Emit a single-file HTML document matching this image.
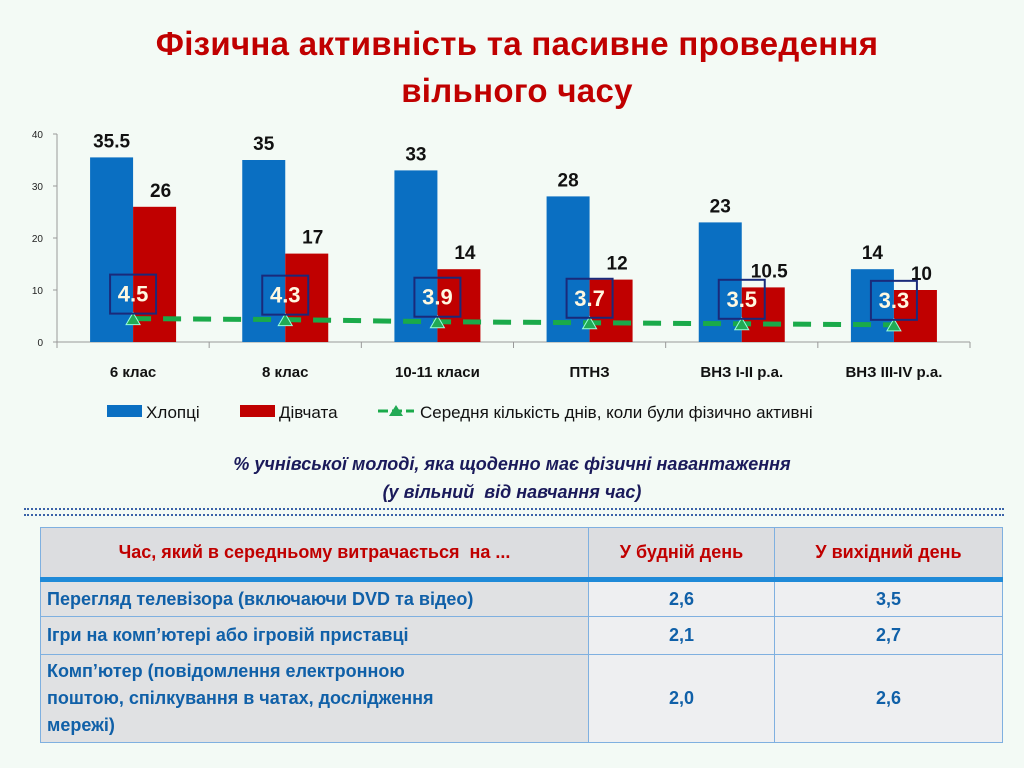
<!DOCTYPE html>
<html><head><meta charset="utf-8"><style>
body{margin:0;width:1024px;height:768px;background:#f3faf5;font-family:"Liberation Sans","DejaVu Sans",sans-serif;overflow:hidden;position:relative}
.title{position:absolute;left:0;width:1034px;top:20px;text-align:center;color:#c00000;font-weight:bold;font-size:33px;line-height:47px;letter-spacing:0.3px}
.sub{position:absolute;left:0;width:1024px;top:450px;text-align:center;color:#1a1a5a;font-style:italic;font-weight:bold;font-size:18px;line-height:28px}
.dots{position:absolute;left:24px;width:980px;height:4px;border-top:2px dotted #3a62a8;border-bottom:2px dotted #3a62a8;top:508px}
table{position:absolute;left:40px;top:527px;width:963px;border-collapse:collapse;font-size:18px;font-weight:bold;table-layout:fixed}
td{border:1.5px solid #7fb0e0;padding:0 6px;color:#1060a8}
th{border:1.5px solid #7fb0e0;color:#c00000;background:#dcdde0;height:47px;font-size:18px}
tr.h{border-bottom:5px solid #1f8ad8}
td.n{text-align:center}
.g{background:#e0e1e3}.w{background:#eeeff1}
</style></head><body>
<div class="title">Фізична активність та пасивне проведення<br>вільного часу</div>
<svg id="chart" width="1024" height="440" style="position:absolute;left:0;top:0"></svg>
<div class="sub">% учнівської молоді, яка щоденно має фізичні навантаження<br>(у вільний&nbsp; від навчання час)</div>
<div class="dots"></div>
<table>
<tr class="h"><th style="width:545px">Час, який в середньому витрачається&nbsp; на ...</th><th style="width:183px">У будній день</th><th>У вихідний день</th></tr>
<tr style="height:37px"><td class="g">Перегляд телевізора (включаючи DVD та відео)</td><td class="n w">2,6</td><td class="n w">3,5</td></tr>
<tr style="height:38px"><td class="g">Ігри на комп’ютері або ігровій приставці</td><td class="n w">2,1</td><td class="n w">2,7</td></tr>
<tr style="height:88px"><td class="g" style="line-height:27px">Комп’ютер (повідомлення електронною<br>поштою, спілкування в чатах, дослідження<br>мережі)</td><td class="n w">2,0</td><td class="n w">2,6</td></tr>
</table>
<script>
const categories=["6 клас","8 клас","10-11 класи","ПТНЗ","ВНЗ I-II р.а.","ВНЗ III-IV р.а."];
const boys=[35.5,35,33,28,23,14];
const girls=[26,17,14,12,10.5,10];
const avgDays=[4.5,4.3,3.9,3.7,3.5,3.3];
const yTicks=[0,10,20,30,40];
const NS="http://www.w3.org/2000/svg";
const svg=document.getElementById('chart');
const x0=57,x1=970,y0=342,yTop=134;
const bw=(x1-x0)/categories.length;
const y=v=>y0-(v/40)*(y0-yTop);
const cx=i=>x0+bw*(i+0.5);
function mk(t,a,txt){const e=document.createElementNS(NS,t);for(const k in a)e.setAttribute(k,a[k]);if(txt!==undefined)e.textContent=txt;svg.appendChild(e);return e;}
mk('line',{x1:x0,y1:yTop,x2:x0,y2:y0,stroke:'#999'});
mk('line',{x1:x0,y1:y0,x2:x1,y2:y0,stroke:'#999'});
yTicks.forEach(v=>{mk('line',{x1:x0-4,y1:y(v),x2:x0,y2:y(v),stroke:'#999'});
const t=mk('text',{x:x0-14,y:y(v)+4,'text-anchor':'end','font-size':10,fill:'#222'},v);

});
for(let i=0;i<=categories.length;i++)mk('line',{x1:x0+bw*i,y1:y0,x2:x0+bw*i,y2:y0+6,stroke:'#999'});
const bwid=43;
categories.forEach((c,i)=>{
 const b=mk('rect',{x:cx(i)-bwid,y:y(boys[i]),width:bwid,height:y0-y(boys[i]),fill:'#0a6fc2'});
 
 
 const g=mk('rect',{x:cx(i),y:y(girls[i]),width:bwid,height:y0-y(girls[i]),fill:'#c00000'});
 
 
 mk('text',{x:cx(i)-bwid/2,y:y(boys[i])-10,'text-anchor':'middle','font-size':19,'font-weight':'bold',fill:'#111'},boys[i]);
 mk('text',{x:cx(i)+bwid/2+6,y:y(girls[i])-10,'text-anchor':'middle','font-size':19,'font-weight':'bold',fill:'#111'},girls[i]);
 const l=mk('text',{x:cx(i),y:y0+35,'text-anchor':'middle','font-size':15,'font-weight':'bold',fill:'#111'},c);
 
 
});
let pts=avgDays.map((v,i)=>`${cx(i)},${y(v)}`).join(' ');
const ln=mk('polyline',{points:pts,fill:'none',stroke:'#1aaa4a','stroke-width':5,'stroke-dasharray':'18 12'});


avgDays.forEach((v,i)=>{
 const X=cx(i),Y=y(v);
 const m=mk('polygon',{points:`${X-7},${Y+6} ${X+7},${Y+6} ${X},${Y-6}`,fill:'#22aa55',stroke:'#9fd',"stroke-width":1});
 
 
 mk('rect',{x:X-23,y:Y-44,width:46,height:39,fill:'none',stroke:'#1a2a7a','stroke-width':2});
 mk('text',{x:X,y:Y-17,'text-anchor':'middle','font-size':22,'font-weight':'bold',fill:'#fff8e0'},v);
});
const lg=[[107,'#0a6fc2','Хлопці'],[240,'#c00000','Дівчата']];
lg.forEach(([lx,col,t])=>{mk('rect',{x:lx,y:405,width:35,height:12,fill:col});
const e=mk('text',{x:lx+39,y:418,'font-size':17,fill:'#111'},t);

});
mk('line',{x1:378,y1:411,x2:414,y2:411,stroke:'#1aaa4a','stroke-width':3,'stroke-dasharray':'10 4'});
mk('polygon',{points:'389,416 403,416 396,405',fill:'#22aa55'});
const e3=mk('text',{x:420,y:418,'font-size':17,fill:'#111'},'Середня кількість днів, коли були фізично активні');


</script>
</body></html>
